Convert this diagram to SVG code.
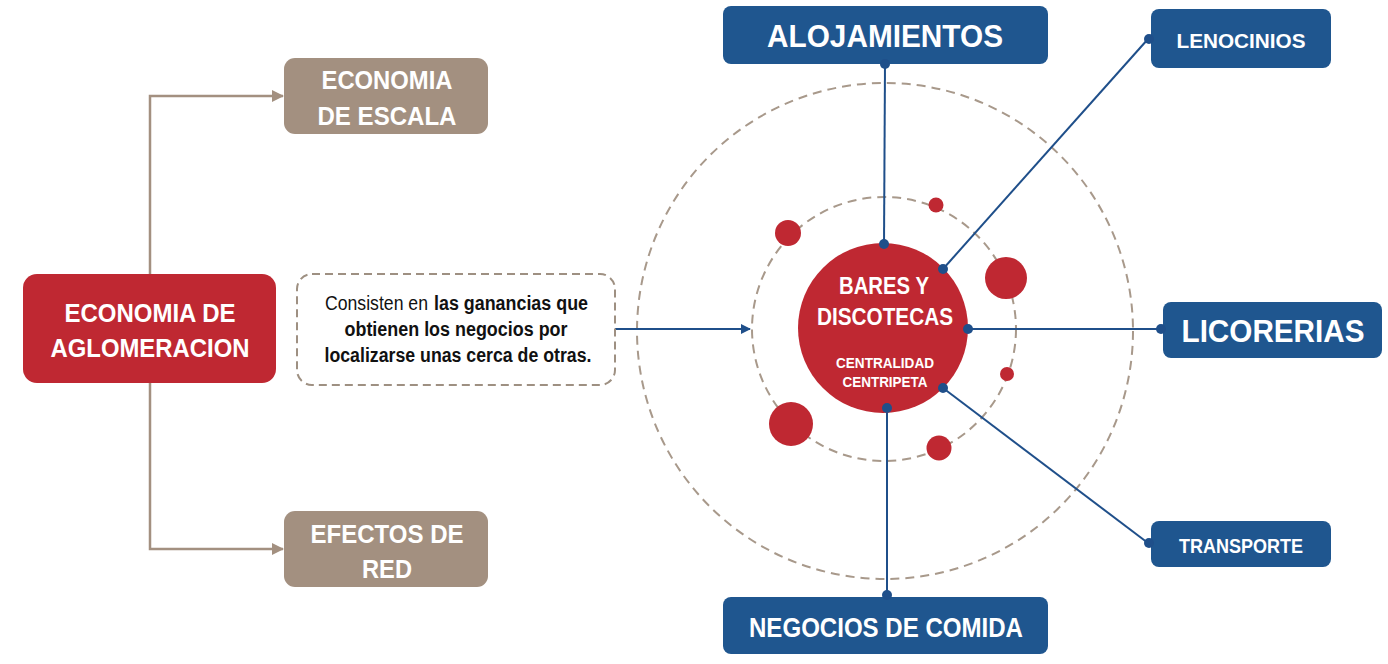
<svg xmlns="http://www.w3.org/2000/svg" width="1388" height="664" viewBox="0 0 1388 664">
<style>
.t{font-family:"Liberation Sans",Arial,sans-serif;font-weight:bold;fill:#ffffff;text-anchor:middle}
.blue{fill:#1F568F}
.red{fill:#BF2832}
.tan{fill:#A39080}
.dash{fill:none;stroke:#A8998B;stroke-width:2;stroke-dasharray:9 6}
.bl{stroke:#1F4F8A;stroke-width:2;fill:none}
.dot{fill:#1F4F8A}
.tl{stroke:#A39080;stroke-width:2.5;fill:none}
.body{font-family:"Liberation Sans",Arial,sans-serif;fill:#111111;font-size:20px}
</style>
<defs>
<marker id="ah" markerWidth="10" markerHeight="10" refX="9" refY="5" orient="auto" markerUnits="userSpaceOnUse">
<path d="M0,0 L10,5 L0,10 Z" fill="#1F4F8A"/>
</marker>
<marker id="at" markerWidth="12" markerHeight="12" refX="11" refY="6" orient="auto" markerUnits="userSpaceOnUse">
<path d="M0,0 L12,6 L0,12 Z" fill="#A39080"/>
</marker>
</defs>
<rect width="1388" height="664" fill="#ffffff"/>

<g id="rings">
<circle class="dash" cx="885" cy="331" r="248"/>
<circle class="dash" cx="884" cy="329" r="132"/>
</g>

<g id="connectors">
<polyline class="tl" points="150,274 150,96 283,96" marker-end="url(#at)"/>
<polyline class="tl" points="150,383 150,549 283,549" marker-end="url(#at)"/>
<line class="bl" x1="615" y1="329" x2="750" y2="329" marker-end="url(#ah)"/>
<line class="bl" x1="885" y1="64" x2="884" y2="244"/>
<line class="bl" x1="1148" y1="39" x2="943" y2="269"/>
<line class="bl" x1="968" y1="329" x2="1161" y2="329"/>
<line class="bl" x1="943" y1="388" x2="1148" y2="543"/>
<line class="bl" x1="887" y1="408" x2="887" y2="593"/>
</g>

<g id="satellites">
<circle class="red" cx="788" cy="233" r="13"/>
<circle class="red" cx="936" cy="205" r="7.5"/>
<circle class="red" cx="1006" cy="278" r="21"/>
<circle class="red" cx="1007" cy="374" r="7"/>
<circle class="red" cx="791" cy="424" r="22"/>
<circle class="red" cx="939" cy="448" r="12.5"/>
</g>

<g id="aglomeracion">
<rect class="red" x="23" y="274" width="253" height="109" rx="14"/>
<text class="t" x="150" y="322" font-size="26" textLength="171" lengthAdjust="spacingAndGlyphs">ECONOMIA DE</text>
<text class="t" x="150" y="357" font-size="26" textLength="199" lengthAdjust="spacingAndGlyphs">AGLOMERACION</text>
</g>

<g id="escala">
<rect class="tan" x="284" y="58" width="204" height="76" rx="11"/>
<text class="t" x="387" y="89" font-size="26" textLength="131" lengthAdjust="spacingAndGlyphs">ECONOMIA</text>
<text class="t" x="387" y="125" font-size="26" textLength="139" lengthAdjust="spacingAndGlyphs">DE ESCALA</text>
</g>

<g id="red">
<rect class="tan" x="284" y="511" width="204" height="76" rx="11"/>
<text class="t" x="387" y="543" font-size="26" textLength="153" lengthAdjust="spacingAndGlyphs">EFECTOS DE</text>
<text class="t" x="387" y="578" font-size="26" textLength="50" lengthAdjust="spacingAndGlyphs">RED</text>
</g>

<g id="definicion">
<rect x="297" y="274" width="318" height="111" rx="15" fill="#ffffff" stroke="#9E9082" stroke-width="2" stroke-dasharray="8 5"/>
<text class="body" x="325" y="310" textLength="103" lengthAdjust="spacingAndGlyphs">Consisten en</text>
<text class="body" x="434" y="310" font-weight="bold" textLength="154" lengthAdjust="spacingAndGlyphs">las ganancias que</text>
<text class="body" x="456" y="336" font-weight="bold" text-anchor="middle" textLength="223" lengthAdjust="spacingAndGlyphs">obtienen los negocios por</text>
<text class="body" x="458" y="362" font-weight="bold" text-anchor="middle" textLength="267" lengthAdjust="spacingAndGlyphs">localizarse unas cerca de otras.</text>
</g>

<g id="centro">
<circle class="red" cx="883" cy="328" r="85"/>
<text class="t" x="884" y="294" font-size="24" textLength="90" lengthAdjust="spacingAndGlyphs">BARES Y</text>
<text class="t" x="885" y="325" font-size="24" textLength="136" lengthAdjust="spacingAndGlyphs">DISCOTECAS</text>
<text class="t" x="885" y="368" font-size="15" textLength="98" lengthAdjust="spacingAndGlyphs">CENTRALIDAD</text>
<text class="t" x="885" y="387" font-size="15" textLength="85" lengthAdjust="spacingAndGlyphs">CENTRIPETA</text>
<circle class="dot" cx="884" cy="244" r="5"/>
<circle class="dot" cx="943" cy="269" r="5"/>
<circle class="dot" cx="968" cy="329" r="5"/>
<circle class="dot" cx="943" cy="388" r="5"/>
<circle class="dot" cx="887" cy="408" r="5"/>
</g>

<g id="alojamientos">
<rect class="blue" x="723" y="6" width="325" height="58" rx="8"/>
<text class="t" x="885" y="47" font-size="31" textLength="236" lengthAdjust="spacingAndGlyphs">ALOJAMIENTOS</text>
<circle class="dot" cx="885" cy="64" r="5"/>
</g>

<g id="lenocinios">
<rect class="blue" x="1151" y="9" width="180" height="59" rx="8"/>
<text class="t" x="1241" y="48" font-size="21" textLength="129" lengthAdjust="spacingAndGlyphs">LENOCINIOS</text>
<circle class="dot" cx="1149" cy="39" r="5"/>
</g>

<g id="licorerias">
<rect class="blue" x="1163" y="302" width="219" height="56" rx="8"/>
<text class="t" x="1273" y="342" font-size="32" textLength="183" lengthAdjust="spacingAndGlyphs">LICORERIAS</text>
<circle class="dot" cx="1161" cy="329" r="5"/>
</g>

<g id="transporte">
<rect class="blue" x="1151" y="521" width="180" height="46" rx="8"/>
<text class="t" x="1241" y="553" font-size="21" textLength="124" lengthAdjust="spacingAndGlyphs">TRANSPORTE</text>
<circle class="dot" cx="1149" cy="543" r="5"/>
</g>

<g id="comida">
<rect class="blue" x="723" y="597" width="325" height="57" rx="8"/>
<text class="t" x="886" y="637" font-size="28" textLength="274" lengthAdjust="spacingAndGlyphs">NEGOCIOS DE COMIDA</text>
<circle class="dot" cx="887" cy="595" r="5"/>
</g>
</svg>
